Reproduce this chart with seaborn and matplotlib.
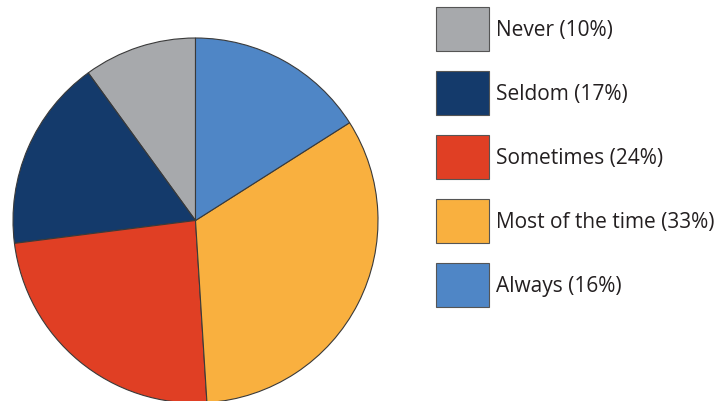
import matplotlib
matplotlib.use("Agg")
import matplotlib.pyplot as plt
import seaborn as sns

categories = ["Never", "Seldom", "Sometimes", "Most of the time", "Always"]
values = [10, 17, 24, 33, 16]
colors = ["#A7A9AC", "#143A6B", "#E03F24", "#F9B03F", "#4F86C6"]
labels = [f"{c} ({v}%)" for c, v in zip(categories, values)]

sns.set_theme(style="white")
plt.rcParams["font.family"] = ["Open Sans", "DejaVu Sans"]

W, H = 724, 402
fig = plt.figure(figsize=(W / 100, H / 100), dpi=100)
cx, cy, r = 195.5, 221.5, 182.5
ax = fig.add_axes([(cx - r) / W, (H - cy - r) / H, 2 * r / W, 2 * r / H])
wedges, _ = ax.pie(values, colors=sns.color_palette(colors), startangle=90,
                   counterclock=True, radius=1,
                   wedgeprops=dict(edgecolor="#3a3a3a", linewidth=0.8))
for w in wedges:
    w.set_clip_on(False)
ax.set_xlim(-1, 1)
ax.set_ylim(-1, 1)
ax.set_aspect("equal")
ax.axis("off")

fs = 15
fpx = fs * 100 / 72
box_h = 44
hh = (box_h / fpx - 0.245) / 0.65
leg = fig.legend(wedges, labels, loc="upper left",
                 bbox_to_anchor=(436 / W, 1 - 8 / H),
                 frameon=False, fontsize=fs, borderpad=0, borderaxespad=0,
                 handlelength=53 / fpx, handleheight=hh,
                 handletextpad=7 / fpx, labelspacing=20 / fpx)
for t in leg.get_texts():
    t.set_color("#231f20")
for h in leg.legend_handles:
    h.set_edgecolor("#555555")
    h.set_linewidth(0.8)

fig.savefig("out.png", dpi=100)
